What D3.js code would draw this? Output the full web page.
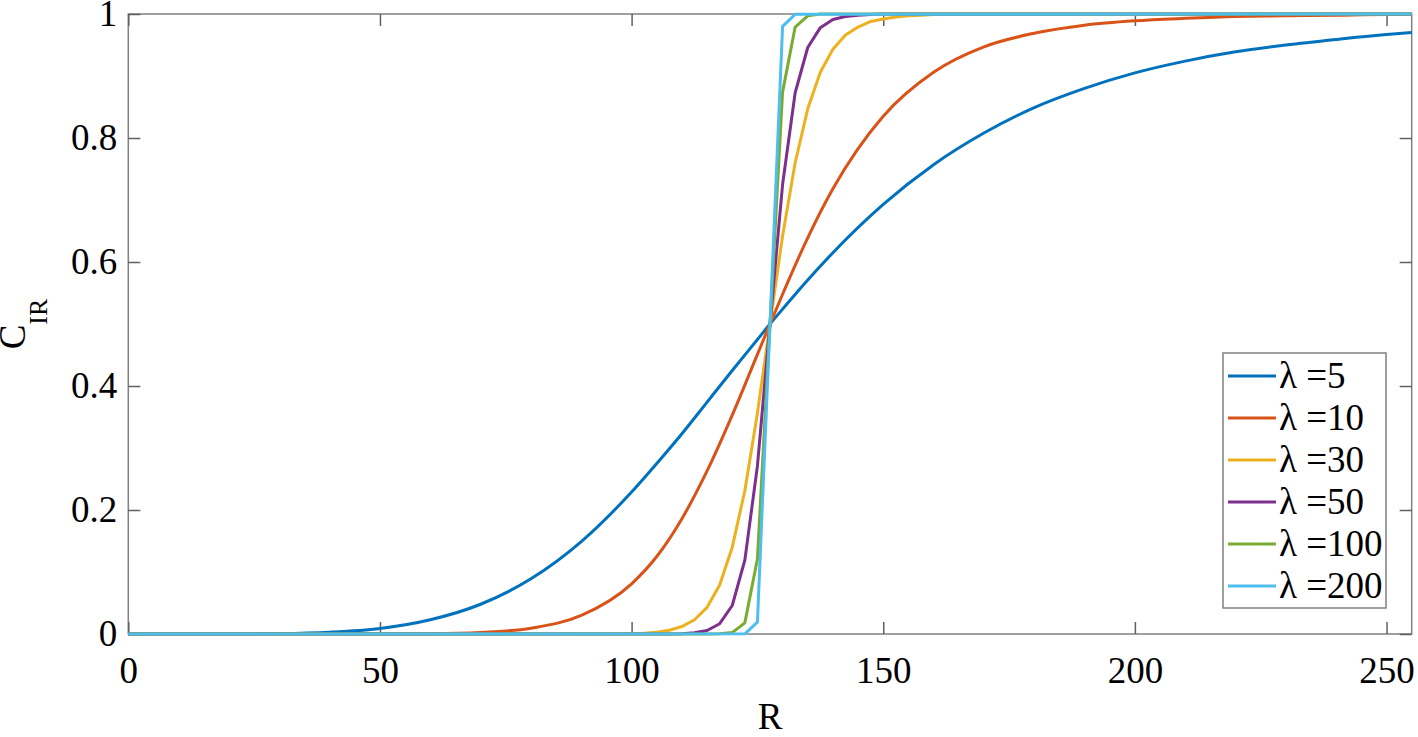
<!DOCTYPE html>
<html>
<head>
<meta charset="utf-8">
<script src="https://cdn.jsdelivr.net/npm/d3@7"></script>
<style>
  body { margin: 0; background: #fff; }
  text { font-family: "Liberation Serif", "Times New Roman", serif; fill: #000; }
</style>
</head>
<body>
<div id="container"></div>
<script>
// values
const lambdas = [5, 10, 30, 50, 100, 200];

const rSmooth = [0, 10, 20, 30, 40, 50, 60, 70, 80, 90, 100, 105, 110, 115, 120, 125, 127.5, 130, 135, 140, 150, 160, 170, 180, 190, 200, 210, 220, 230, 240, 250, 255];
const cLam5 = [0, 0, 0.0001, 0.0007, 0.003, 0.009, 0.023, 0.048, 0.089, 0.149, 0.229, 0.275, 0.323, 0.374, 0.425, 0.475, 0.5, 0.524, 0.571, 0.615, 0.693, 0.757, 0.808, 0.849, 0.880, 0.905, 0.924, 0.939, 0.950, 0.959, 0.967, 0.970];
const cLam10 = [0, 0, 0, 0, 0, 0.0001, 0.0005, 0.0025, 0.0094, 0.030, 0.081, 0.125, 0.186, 0.263, 0.353, 0.451, 0.5, 0.548, 0.639, 0.718, 0.835, 0.906, 0.947, 0.969, 0.982, 0.989, 0.993, 0.996, 0.997, 0.998, 0.999, 0.999];

const rLam30 = [0, 97.5, 100, 102.5, 105, 107.5, 110, 112.5, 115, 117.5, 120, 122.5, 125, 127.5, 130, 132.5, 135, 137.5, 140, 142.5, 145, 147.5, 150, 152.5, 155, 157.5, 160, 255];
const cLam30 = [0, 0.0003, 0.0007, 0.0014, 0.003, 0.006, 0.012, 0.023, 0.043, 0.079, 0.140, 0.231, 0.356, 0.5, 0.642, 0.760, 0.847, 0.906, 0.943, 0.966, 0.979, 0.988, 0.992, 0.995, 0.997, 0.998, 0.999, 1];

const rLam50 = [0, 107.5, 110, 112.5, 115, 117.5, 120, 122.5, 125, 127.5, 130, 132.5, 135, 137.5, 140, 142.5, 145, 147.5, 150, 255];
const cLam50 = [0, 0.0002, 0.0006, 0.0019, 0.0057, 0.0166, 0.046, 0.119, 0.271, 0.5, 0.725, 0.873, 0.946, 0.978, 0.991, 0.996, 0.998, 0.999, 1, 1];

const rLam100 = [0, 115, 117.5, 120, 122.5, 125, 127.5, 130, 132.5, 135, 137.5, 255];
const cLam100 = [0, 0, 0.0003, 0.0023, 0.018, 0.121, 0.5, 0.874, 0.979, 0.997, 1, 1];

const rLam200 = [0, 122.5, 125, 127.5, 130, 132.5, 255];
const cLam200 = [0, 0.0003, 0.019, 0.5, 0.980, 0.9995, 1];

const xTicks = [0, 50, 100, 150, 200, 250];
const yTicks = [0, 0.2, 0.4, 0.6, 0.8, 1];

const colors = ['#0072BD', '#D95319', '#EDB120', '#7E2F8E', '#77AC30', '#4DBEEE'];

const series = [
    { r: rSmooth, c: cLam5, curve: d3.curveMonotoneX },
    { r: rSmooth, c: cLam10, curve: d3.curveMonotoneX },
    { r: rLam30, c: cLam30, curve: d3.curveLinear },
    { r: rLam50, c: cLam50, curve: d3.curveLinear },
    { r: rLam100, c: cLam100, curve: d3.curveLinear },
    { r: rLam200, c: cLam200, curve: d3.curveLinear }
];

const W = 1418, H = 737;
const mLeft = 128.3, mRight = 1411.7, mTop = 14, mBottom = 634;
const fs = 37;

let svg = d3.select('#container')
    .append('svg')
    .attr('width', W)
    .attr('height', H);

var x = d3.scaleLinear().domain([0, 255]).range([mLeft, mRight]);
var y = d3.scaleLinear().domain([0, 1]).range([mBottom, mTop]);

// frame
svg.append('rect')
    .attr('x', mLeft)
    .attr('y', mTop)
    .attr('width', mRight - mLeft)
    .attr('height', mBottom - mTop)
    .attr('fill', 'none')
    .attr('stroke', '#808080')
    .attr('stroke-width', 1.5);

function styleAxis(g) {
    g.select('.domain').remove();
    g.selectAll('.tick line').attr('stroke', '#606060').attr('stroke-width', 1.5);
    g.selectAll('.tick text').style('font-size', fs + 'px').attr('fill', '#000');
}

svg.append('g')
    .attr('transform', `translate(0,${mBottom})`)
    .call(d3.axisBottom(x).tickValues(xTicks).tickSize(-12).tickPadding(23).tickFormat(d3.format('d')))
    .call(styleAxis);

svg.append('g')
    .attr('transform', `translate(0,${mTop})`)
    .call(d3.axisTop(x).tickValues(xTicks).tickSize(-12).tickFormat(''))
    .call(styleAxis);

svg.append('g')
    .attr('transform', `translate(${mLeft},0)`)
    .call(d3.axisLeft(y).tickValues(yTicks).tickSize(-12).tickPadding(11).tickFormat(d => d === 0 || d === 1 ? d3.format('d')(d) : d3.format('.1f')(d)))
    .call(styleAxis);

svg.append('g')
    .attr('transform', `translate(${mRight},0)`)
    .call(d3.axisRight(y).tickValues(yTicks).tickSize(-12).tickFormat(''))
    .call(styleAxis);

// curves
series.forEach(function (s, i) {
    var pts = s.r.map(function (r, j) { return { r: r, c: s.c[j] }; });
    var line = d3.line()
        .x(function (d) { return x(d.r); })
        .y(function (d) { return y(d.c); })
        .curve(s.curve);
    svg.append('path')
        .attr('d', line(pts))
        .attr('fill', 'none')
        .attr('stroke', colors[i])
        .attr('stroke-width', 3)
        .attr('stroke-linejoin', 'round');
});

// axis labels
svg.append('text')
    .attr('x', (mLeft + mRight) / 2)
    .attr('y', 729)
    .attr('text-anchor', 'middle')
    .style('font-size', fs + 'px')
    .text('R');

var yl = svg.append('text')
    .attr('transform', `translate(25,${(mTop + mBottom) / 2}) rotate(-90)`)
    .attr('text-anchor', 'middle')
    .style('font-size', fs + 'px');
yl.append('tspan').text('C');
yl.append('tspan').attr('dy', 22).style('font-size', '26px').text('IR');

// legend
var lg = svg.append('g');
lg.append('rect')
    .attr('x', 1223)
    .attr('y', 353)
    .attr('width', 163)
    .attr('height', 255)
    .attr('fill', '#fff')
    .attr('stroke', '#808080')
    .attr('stroke-width', 1.5);

lambdas.forEach(function (l, i) {
    var yy = 376 + i * 42;
    lg.append('line')
        .attr('x1', 1228).attr('x2', 1276)
        .attr('y1', yy).attr('y2', yy)
        .attr('stroke', colors[i])
        .attr('stroke-width', 3);
    lg.append('text')
        .attr('x', 1279)
        .attr('y', yy + 12)
        .style('font-size', fs + 'px')
        .text('λ =' + l);
});
</script>
</body>
</html>
